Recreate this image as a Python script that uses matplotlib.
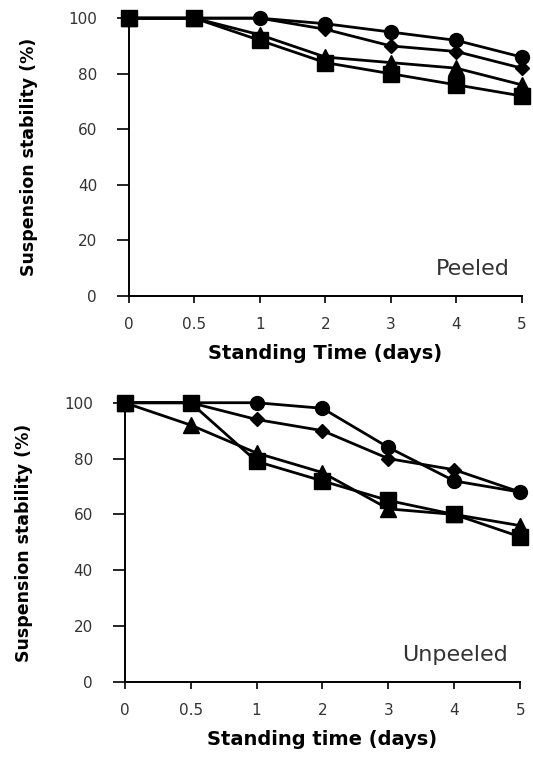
import numpy as np
from matplotlib import pyplot as plt

# eixo x categórico (espaçamento igual)
time_labels = ["0", "0.5", "1", "2", "3", "4", "5"]

# Peeled
peeled_circle = [100, 100, 100, 98, 95, 92, 86]
peeled_diamond = [100, 100, 100, 96, 90, 88, 82]
peeled_triangle = [100, 100, 94, 86, 84, 82, 76]
peeled_square = [100, 100, 92, 84, 80, 76, 72]

# Unpeeled
unpeeled_circle = [100, 100, 100, 98, 84, 72, 68]
unpeeled_diamond = [100, 100, 94, 90, 80, 76, 68]
unpeeled_triangle = [100, 92, 82, 75, 62, 60, 56]
unpeeled_square = [100, 100, 79, 72, 65, 60, 52]

y_ticks = [0, 20, 40, 60, 80, 100]


def desenha_painel(ax, series, nome, xlabel):
    x = np.arange(len(time_labels))
    estilos = [("o", 10), ("D", 7.5), ("^", 11), ("s", 11)]
    for valores, (marcador, tam) in zip(series, estilos):
        ax.plot(x, valores, color="black", lw=2, marker=marcador,
                markersize=tam, clip_on=False, zorder=3)

    ax.set_xlim(0, len(time_labels) - 1)
    ax.set_ylim(0, 100)
    ax.set_xticks(x)
    ax.set_xticklabels(time_labels)
    ax.set_yticks(y_ticks)
    ax.spines["top"].set_visible(False)
    ax.spines["right"].set_visible(False)
    ax.spines["left"].set_linewidth(1.4)
    ax.spines["bottom"].set_linewidth(1.4)
    ax.tick_params(axis="y", direction="out", length=9, width=1.2, pad=14,
                   labelsize=11, labelcolor="#333333")
    ax.tick_params(axis="x", direction="out", length=5, width=1.2, pad=10,
                   labelsize=11, labelcolor="#333333")
    ax.text(0.97, 0.06, nome, transform=ax.transAxes, ha="right", va="bottom",
            fontsize=16, color="#333333")
    ax.set_xlabel(xlabel, fontsize=14, fontweight="bold", labelpad=9)
    ax.set_ylabel("Suspension stability (%)", fontsize=12.5, fontweight="bold",
                  labelpad=22)


fig = plt.figure(figsize=(5.33, 7.57), dpi=100)

ax1 = fig.add_axes([0.242, 0.609, 0.737, 0.367])
desenha_painel(ax1, [peeled_circle, peeled_diamond, peeled_triangle, peeled_square],
               "Peeled", "Standing Time (days)")

ax2 = fig.add_axes([0.234, 0.099, 0.742, 0.369])
desenha_painel(ax2, [unpeeled_circle, unpeeled_diamond, unpeeled_triangle, unpeeled_square],
               "Unpeeled", "Standing time (days)")

plt.savefig("out.png", dpi=100)
